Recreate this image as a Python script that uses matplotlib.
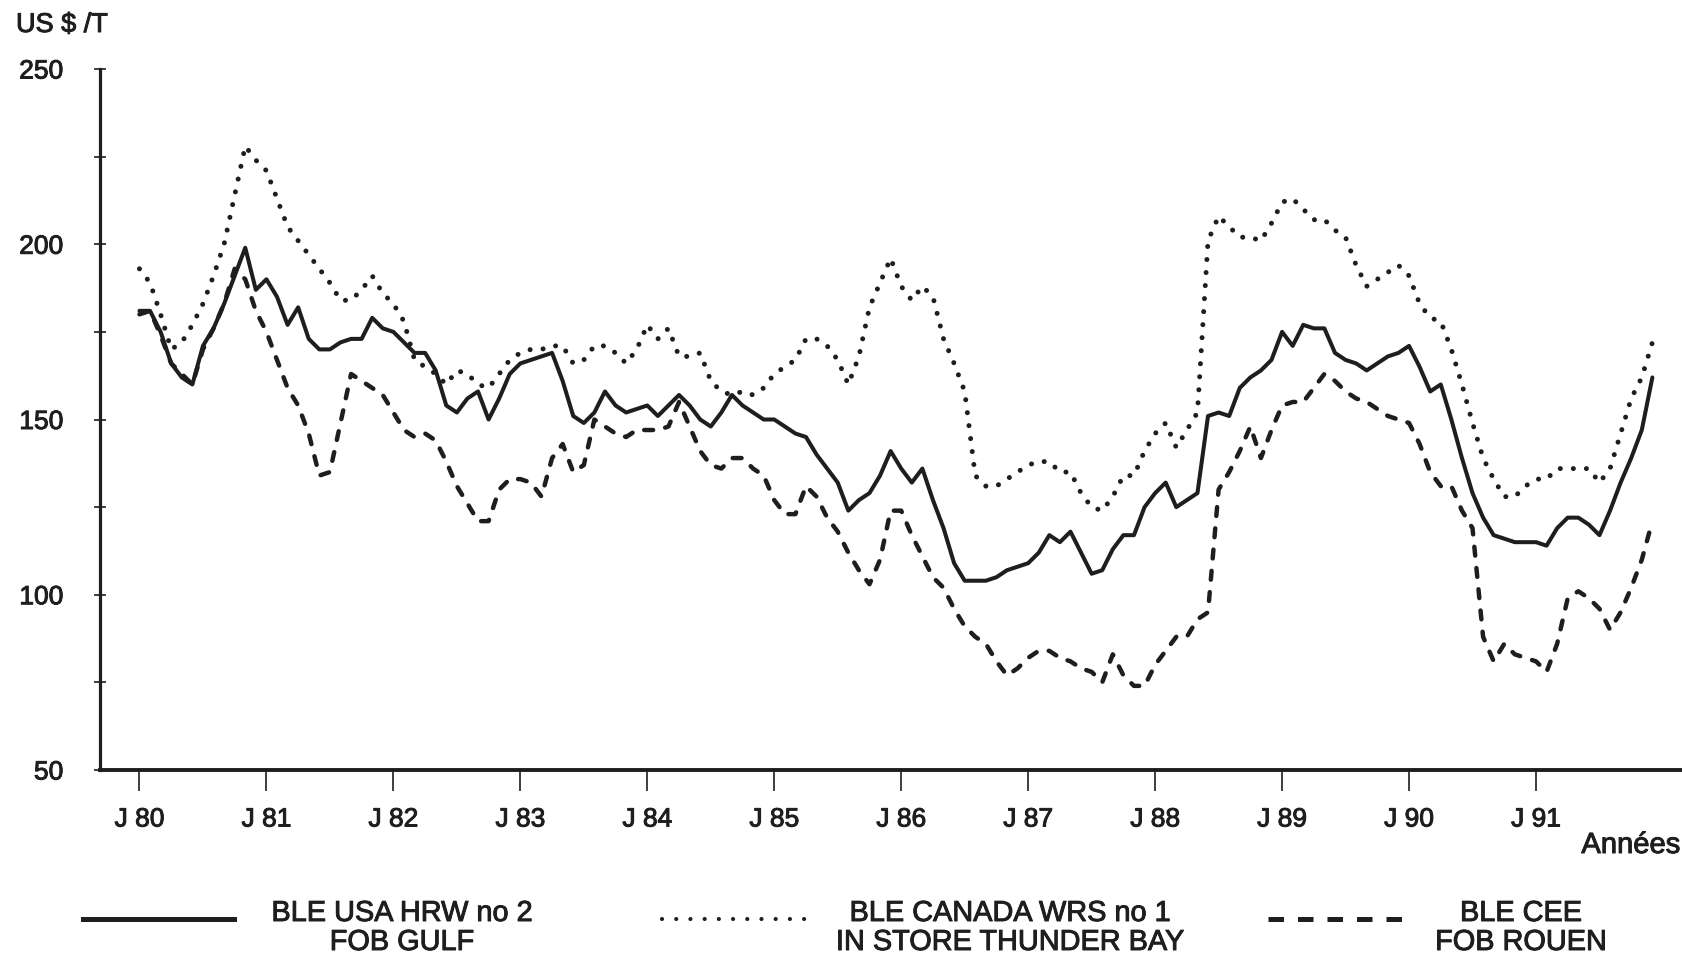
import numpy as np
import matplotlib
matplotlib.use("Agg")
import matplotlib.pyplot as plt
from matplotlib.lines import Line2D
import matplotlib.patheffects as pe

# ---- data (monthly, Jan 1980 .. Dec 1991), US $ per tonne ----
usa_hrw = [
    181, 181, 175, 166, 162, 160, 171, 176, 183, 191, 199, 187,   # 1980
    190, 185, 177, 182, 173, 170, 170, 172, 173, 173, 179, 176,   # 1981
    175, 172, 169, 169, 164, 154, 152, 156, 158, 150, 156, 163,   # 1982
    166, 167, 168, 169, 161, 151, 149, 152, 158, 154, 152, 153,   # 1983
    154, 151, 154, 157, 154, 150, 148, 152, 157, 154, 152, 150,   # 1984
    150, 148, 146, 145, 140, 136, 132, 124, 127, 129, 134, 141,   # 1985
    136, 132, 136, 127, 119, 109, 104, 104, 104, 105, 107, 108,   # 1986
    109, 112, 117, 115, 118, 112, 106, 107, 113, 117, 117, 125,   # 1987
    129, 132, 125, 127, 129, 151, 152, 151, 159, 162, 164, 167,   # 1988
    175, 171, 177, 176, 176, 169, 167, 166, 164, 166, 168, 169,   # 1989
    171, 165, 158, 160, 150, 139, 129, 122, 117, 116, 115, 115,   # 1990
    115, 114, 119, 122, 122, 120, 117, 124, 132, 139, 147, 162,   # 1991
]
canada_wrs = [
    193, 189, 180, 170, 172, 177, 183, 191, 200, 214, 228, 224,
    221, 213, 205, 201, 197, 193, 189, 184, 184, 187, 191, 186,
    183, 178, 167, 165, 163, 160, 164, 163, 160, 159, 163, 167,
    169, 170, 170, 171, 171, 166, 167, 171, 171, 169, 166, 170,
    177, 173, 176, 168, 168, 169, 161, 158, 157, 158, 157, 159,
    163, 165, 167, 173, 173, 171, 167, 160, 168, 182, 189, 196,
    188, 184, 188, 185, 173, 166, 158, 134, 131, 131, 133, 135,
    137, 138, 138, 135, 135, 129, 125, 124, 128, 134, 134, 141,
    146, 149, 142, 147, 152, 201, 208, 205, 202, 202, 201, 206,
    212, 213, 210, 207, 207, 204, 202, 194, 188, 190, 192, 194,
    191, 183, 179, 178, 170, 160, 149, 139, 133, 128, 128, 131,
    133, 133, 136, 136, 136, 136, 132, 136, 146, 156, 162, 172,
]
cee_rouen = [
    180, 181, 174, 166, 163, 160, 170, 176, 183, 193, 190, 181,
    175, 167, 159, 154, 146, 134, 135, 149, 163, 161, 159, 157,
    152, 147, 145, 146, 144, 138, 131, 126, 121, 121, 130, 133,
    133, 132, 128, 139, 143, 135, 137, 150, 148, 146, 145, 147,
    147, 147, 148, 155, 148, 141, 137, 136, 139, 139, 136, 134,
    127, 123, 123, 131, 128, 122, 118, 112, 107, 103, 110, 124,
    124, 117, 111, 105, 102, 96, 91, 88, 86, 81, 77, 79,
    82, 84, 84, 82, 81, 79, 78, 75, 83, 77, 74, 74,
    80, 84, 88, 88, 93, 95, 130, 135, 141, 148, 139, 147,
    154, 155, 155, 159, 163, 161, 158, 156, 155, 153, 151, 150,
    149, 143, 135, 131, 131, 124, 119, 88, 81, 86, 83, 82,
    81, 78, 86, 99, 101, 99, 96, 90, 95, 102, 110, 121,
]
tick_labels = ["J 80", "J 81", "J 82", "J 83", "J 84", "J 85",
               "J 86", "J 87", "J 88", "J 89", "J 90", "J 91"]
y_major = [50, 100, 150, 200, 250]
y_minor = [75, 125, 175, 225]
legend_rows = [("BLE USA HRW no 2", "FOB GULF"),
               ("BLE CANADA WRS no 1", "IN STORE THUNDER BAY"),
               ("BLE CEE", "FOB ROUEN")]

plt.rcParams['font.family'] = ['Liberation Sans', 'DejaVu Sans']

W, H = 1682, 959
fig = plt.figure(figsize=(W / 100, H / 100), dpi=100)
fig.patch.set_facecolor('white')
ink = '#1e1e1e'
bold = [pe.withStroke(linewidth=0.7, foreground=ink)]

ax = fig.add_axes([100 / W, 1 - 770 / H, 1 - 100 / W, (770 - 69) / H])
months = np.arange(len(usa_hrw))

ax.plot(months, usa_hrw, color=ink, lw=2.9, solid_joinstyle='round',
        solid_capstyle='round', clip_on=False)
ax.plot(months, canada_wrs, color=ink, lw=3.6, linestyle=(0, (0.01, 2.6)),
        dash_capstyle='round', clip_on=False)
ax.plot(months, cee_rouen, color=ink, lw=3.2, linestyle=(0, (2.0, 2.8)),
        dash_capstyle='round', clip_on=False)

ax.set_xlim(-3.73, 145.8)
ax.set_ylim(50, 250)
for s in ('top', 'right'):
    ax.spines[s].set_visible(False)
ax.spines['left'].set_linewidth(2.3)
ax.spines['bottom'].set_linewidth(2.8)
ax.spines['left'].set_color(ink)
ax.spines['bottom'].set_color(ink)

ax.set_xticks(np.arange(0, 12 * len(tick_labels), 12))
ax.set_xticklabels(tick_labels)
ax.set_yticks(y_major)
ax.set_yticks(y_minor, minor=True)
ax.tick_params(axis='x', direction='out', length=15, width=1.2, pad=12,
               labelsize=19, color=ink, labelcolor=ink)
ax.tick_params(axis='y', which='both', direction='inout', length=9, width=1.2,
               pad=22, labelsize=19, color=ink, labelcolor=ink)
for lab in ax.get_xticklabels() + ax.get_yticklabels():
    lab.set_path_effects(bold)

# axis titles
fig.text(16 / W, 1 - 25 / H, "US $ /T", ha='left', va='center', fontsize=19.5,
         color=ink, path_effects=bold)
fig.text(1680 / W, 1 - 845 / H, "Années", ha='right', va='center', fontsize=21,
         color=ink, path_effects=bold)

# legend
ly = 1 - 919 / H
fig.add_artist(Line2D([83 / W, 234 / W], [ly, ly], transform=fig.transFigure,
                      color=ink, lw=3.6))
fig.add_artist(Line2D([662 / W, 807 / W], [ly, ly], transform=fig.transFigure,
                      color=ink, lw=3.0, linestyle=(0, (0.01, 3.4)),
                      dash_capstyle='round'))
fig.add_artist(Line2D([1268 / W, 1405 / W], [ly, ly], transform=fig.transFigure,
                      color=ink, lw=3.6, linestyle=(0, (3.1, 2.8))))
centers = [402, 1010, 1521]
for (l1, l2), cx in zip(legend_rows, centers):
    fig.text(cx / W, 1 - 913 / H, l1, ha='center', va='center', fontsize=20.8,
             color=ink, path_effects=bold)
    fig.text(cx / W, 1 - 942 / H, l2, ha='center', va='center', fontsize=20.8,
             color=ink, path_effects=bold)

fig.savefig('out.png', dpi=100)
